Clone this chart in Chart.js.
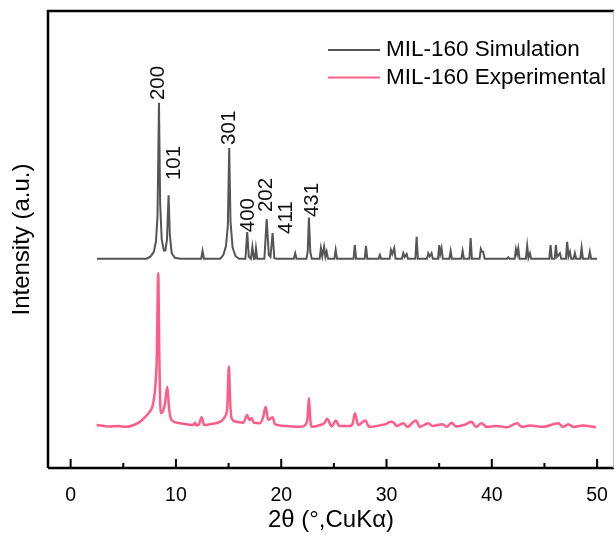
<!DOCTYPE html>
<html>
<head>
<meta charset="utf-8">
<script src="https://cdn.jsdelivr.net/npm/chart.js@4/dist/chart.umd.min.js"></script>
<style>
  html, body { margin: 0; padding: 0; background: #fff; }
  #wrap { width: 616px; height: 540px; }
</style>
</head>
<body>
<div id="wrap"><canvas id="xrd" width="616" height="540"></canvas></div>
<script>
// x axis tick values (2theta, degrees)
const xTickValues = [0, 10, 20, 30, 40, 50];
const xMinorTicks = [5, 15, 25, 35, 45];

const seriesNames = ['MIL-160 Simulation', 'MIL-160 Experimental'];

// simulated pattern, [2theta, intensity], offset upward
const simPattern = [
    [2.5, 45.8], [7.2, 45.8], [7.6, 46.3], [7.9, 47.3], [8.1, 49.5], [8.25, 55], [8.39, 79.9],
    [8.5, 58], [8.65, 50], [8.85, 47.6], [9.0, 47.6], [9.15, 50], [9.3, 59.7], [9.42, 51],
    [9.6, 47], [9.9, 46], [10.4, 45.8],
    [12.4, 45.8], [12.53, 47.5], [12.66, 45.8],
    [14.2, 45.8], [14.5, 46.6], [14.75, 48.5], [14.93, 53], [15.06, 70], [15.18, 54],
    [15.38, 48.3], [15.65, 46.4], [16.0, 45.8],
    [16.6, 45.8], [16.77, 51.6], [16.92, 46.2], [17.12, 45.8], [17.26, 48.4], [17.4, 45.8],
    [17.5, 45.8], [17.6, 48.1], [17.72, 45.8],
    [18.4, 45.8], [18.62, 54.5], [18.82, 46.6], [18.98, 46.2], [19.18, 51.4], [19.35, 45.9], [19.6, 45.8],
    [21.2, 45.8], [21.33, 47], [21.46, 45.8],
    [22.4, 45.8], [22.52, 47.5], [22.63, 54.8], [22.76, 47.3], [22.9, 45.8],
    [23.65, 45.8], [23.77, 48.1], [23.9, 46.3], [24.07, 48.4], [24.2, 46.2], [24.32, 47.3], [24.45, 45.8],
    [25.05, 45.8], [25.17, 47.7], [25.3, 45.8],
    [26.87, 45.8], [26.99, 48.8], [27.11, 45.8],
    [27.93, 45.8], [28.05, 48.6], [28.17, 45.8],
    [29.25, 45.8], [29.37, 46.6], [29.49, 45.8],
    [30.3, 45.8], [30.42, 47.7], [30.55, 46.8], [30.73, 48.1], [30.86, 45.8],
    [31.47, 45.8], [31.59, 47], [31.72, 46.2], [31.91, 46.8], [32.03, 45.8],
    [32.74, 45.8], [32.86, 50.6], [32.98, 45.8],
    [33.84, 45.8], [33.96, 47], [34.1, 46.3], [34.28, 47], [34.4, 45.8],
    [34.89, 45.8], [35.01, 48.8], [35.1, 46.8], [35.23, 48.1], [35.35, 45.8],
    [35.97, 45.8], [36.09, 47.5], [36.21, 45.8],
    [37.11, 45.8], [37.23, 47.5], [37.35, 45.8],
    [37.87, 45.8], [37.99, 50.3], [38.11, 45.8],
    [38.84, 45.8], [38.96, 47.9], [39.06, 47.3], [39.18, 47.3], [39.32, 45.8],
    [41.44, 45.8], [41.56, 46.1], [41.68, 45.8],
    [42.17, 45.8], [42.29, 47.9], [42.4, 46.8], [42.51, 48.1], [42.63, 45.8],
    [43.24, 45.8], [43.36, 48.6], [43.48, 46], [43.62, 47], [43.74, 45.8],
    [45.46, 45.8], [45.58, 48.8], [45.7, 45.8],
    [45.97, 45.8], [46.09, 48.8], [46.2, 46.2], [46.47, 47], [46.59, 45.8],
    [47.04, 45.8], [47.16, 49.5], [47.28, 46.3], [47.42, 47.3], [47.54, 45.8],
    [47.77, 45.8], [47.89, 47], [48.01, 45.8],
    [48.41, 45.8], [48.53, 48.2], [48.65, 45.8],
    [49.19, 45.8], [49.31, 47.3], [49.43, 45.8], [50.0, 45.8]
];

// measured pattern, [2theta, intensity]
const expPattern = [
    [2.47, 9.4], [3.5, 9.1], [4.5, 9.2], [5.3, 9.0], [6.0, 9.4], [6.6, 10.1], [7.0, 11], [7.4, 12],
    [7.85, 14.2], [8.04, 17.8], [8.18, 24], [8.32, 42.6], [8.42, 25], [8.55, 12.0], [8.75, 12.3],
    [8.95, 14], [9.18, 17.8], [9.35, 13], [9.59, 10.5], [10.38, 9.8], [11.64, 9.4], [11.8, 9.9],
    [11.99, 9.3], [12.2, 9.6], [12.44, 11.1], [12.69, 9.4], [13.23, 9.6], [14.18, 10.1],
    [14.65, 11.2], [14.88, 13.5], [15.03, 22.2], [15.16, 14], [15.29, 10.9], [15.76, 10.1],
    [16.39, 9.9], [16.77, 11.6], [16.96, 10.5], [17.19, 10.9], [17.41, 9.9], [17.98, 9.8],
    [18.29, 11.2], [18.52, 13.4], [18.77, 10.5], [19.18, 11.1], [19.4, 9.6], [20.5, 9.2],
    [21.78, 9.0], [22.35, 9.6], [22.5, 11], [22.63, 15.3], [22.76, 10.5], [22.89, 9.0],
    [23.68, 9.4], [24.1, 9.8], [24.37, 10.8], [24.79, 9.1], [25.2, 10.4], [25.5, 9.2],
    [26.52, 9.2], [26.8, 9.8], [27.0, 12.0], [27.31, 9.4], [27.98, 10.4], [28.36, 9.0],
    [29.53, 9.4], [29.94, 9.6], [30.39, 10.1], [30.7, 9.9], [30.96, 9.2], [31.59, 9.8],
    [31.97, 9.0], [32.79, 10.4], [33.17, 9.0], [33.96, 9.8], [34.38, 9.2], [35.33, 9.6],
    [35.71, 9.0], [36.18, 9.9], [36.59, 9.1], [37.35, 9.4], [38.08, 10.1], [38.49, 9.0],
    [39.03, 9.8], [39.51, 9.0], [40.46, 9.2], [41.41, 8.9], [42.41, 9.8], [42.83, 9.0],
    [43.62, 9.3], [44.88, 9.0], [46.31, 9.8], [46.78, 9.0], [47.26, 9.6], [47.73, 9.0],
    [48.62, 9.3], [49.06, 9.2], [49.89, 8.9]
];

// Miller index labels over the simulated peaks
const peakLabels = ['200', '101', '301', '400', '202', '411', '431'];
const peakLabelX = [8.29, 9.81, 15.03, 16.9, 18.55, 20.45, 22.91];
const peakLabelY = [80.5, 63, 70.7, 51.6, 56, 51.2, 54.9];

const simColor = '#555555';
const expColor = '#ff5c8a';
const fontFamily = 'Arial, "Liberation Sans", sans-serif';

// frame + inward ticks
const framePlugin = {
    id: 'frame',
    afterDraw(chart) {
        const { ctx, chartArea: a, scales } = chart;
        ctx.save();
        ctx.strokeStyle = '#000';
        ctx.lineWidth = 2.5;
        ctx.beginPath();
        ctx.moveTo(a.left, a.bottom);
        ctx.lineTo(a.left, a.top);
        ctx.lineTo(a.right, a.top);
        ctx.moveTo(a.left, a.bottom);
        ctx.lineTo(a.right, a.bottom);
        ctx.stroke();
        ctx.strokeStyle = '#bbb';
        ctx.lineWidth = 1;
        ctx.beginPath();
        ctx.moveTo(a.right - 0.5, a.top);
        ctx.lineTo(a.right - 0.5, a.bottom);
        ctx.stroke();
        ctx.strokeStyle = '#000';
        ctx.lineWidth = 2;
        ctx.beginPath();
        xTickValues.forEach(v => {
            const px = scales.x.getPixelForValue(v);
            ctx.moveTo(px, a.bottom);
            ctx.lineTo(px, a.bottom - 9);
        });
        xMinorTicks.forEach(v => {
            const px = scales.x.getPixelForValue(v);
            ctx.moveTo(px, a.bottom);
            ctx.lineTo(px, a.bottom - 5);
        });
        ctx.stroke();
        ctx.restore();
    }
};

const peakLabelPlugin = {
    id: 'peakLabels',
    afterDatasetsDraw(chart) {
        const { ctx, scales } = chart;
        ctx.save();
        ctx.fillStyle = '#111';
        ctx.font = '20.5px ' + fontFamily;
        ctx.textAlign = 'left';
        ctx.textBaseline = 'middle';
        peakLabels.forEach((t, i) => {
            ctx.save();
            ctx.translate(scales.x.getPixelForValue(peakLabelX[i]), scales.y.getPixelForValue(peakLabelY[i]));
            ctx.rotate(-Math.PI / 2);
            ctx.fillText(t, 0, 0);
            ctx.restore();
        });
        ctx.restore();
    }
};

const legendPlugin = {
    id: 'cornerLegend',
    afterDraw(chart) {
        const { ctx } = chart;
        ctx.save();
        ctx.font = '22.5px ' + fontFamily;
        ctx.textBaseline = 'middle';
        ctx.fillStyle = '#000';
        chart.data.datasets.forEach((ds, i) => {
            const y = 50 + i * 27.5;
            ctx.strokeStyle = ds.borderColor;
            ctx.lineWidth = 2;
            ctx.beginPath();
            ctx.moveTo(328, y);
            ctx.lineTo(380, y);
            ctx.stroke();
            ctx.fillText(ds.label, 386, y);
        });
        ctx.restore();
    }
};

const toXY = arr => arr.map(p => ({ x: p[0], y: p[1] }));

new Chart(document.getElementById('xrd').getContext('2d'), {
    type: 'line',
    data: {
        datasets: [
            {
                label: seriesNames[0],
                data: toXY(simPattern),
                borderColor: simColor,
                borderWidth: 2,
                pointRadius: 0,
                tension: 0
            },
            {
                label: seriesNames[1],
                data: toXY(expPattern),
                borderColor: expColor,
                borderWidth: 2.5,
                pointRadius: 0,
                cubicInterpolationMode: 'monotone'
            }
        ]
    },
    options: {
        responsive: false,
        animation: false,
        layout: { padding: { top: 11, right: 2, left: 0, bottom: 0 } },
        plugins: {
            legend: { display: false },
            tooltip: { enabled: false }
        },
        scales: {
            x: {
                type: 'linear',
                min: -2.15,
                max: 51.6,
                afterBuildTicks: scale => { scale.ticks = xTickValues.map(v => ({ value: v })); },
                afterFit: scale => { scale.height = 72; },
                grid: { display: false },
                border: { display: false },
                ticks: {
                    color: '#000',
                    padding: 8,
                    maxRotation: 0,
                    font: { family: fontFamily, size: 19.5 }
                },
                title: {
                    display: true,
                    text: '2θ (°,CuKα)',
                    color: '#000',
                    font: { family: fontFamily, size: 24 },
                    padding: { top: 0, bottom: 5 }
                }
            },
            y: {
                type: 'linear',
                min: 0,
                max: 100,
                afterFit: scale => { scale.width = 48; },
                grid: { display: false },
                border: { display: false },
                ticks: { display: false },
                title: {
                    display: true,
                    text: 'Intensity (a.u.)',
                    color: '#000',
                    font: { family: fontFamily, size: 24 },
                    padding: { top: 8, bottom: 0 }
                }
            }
        }
    },
    plugins: [framePlugin, peakLabelPlugin, legendPlugin]
});
</script>
</body>
</html>
